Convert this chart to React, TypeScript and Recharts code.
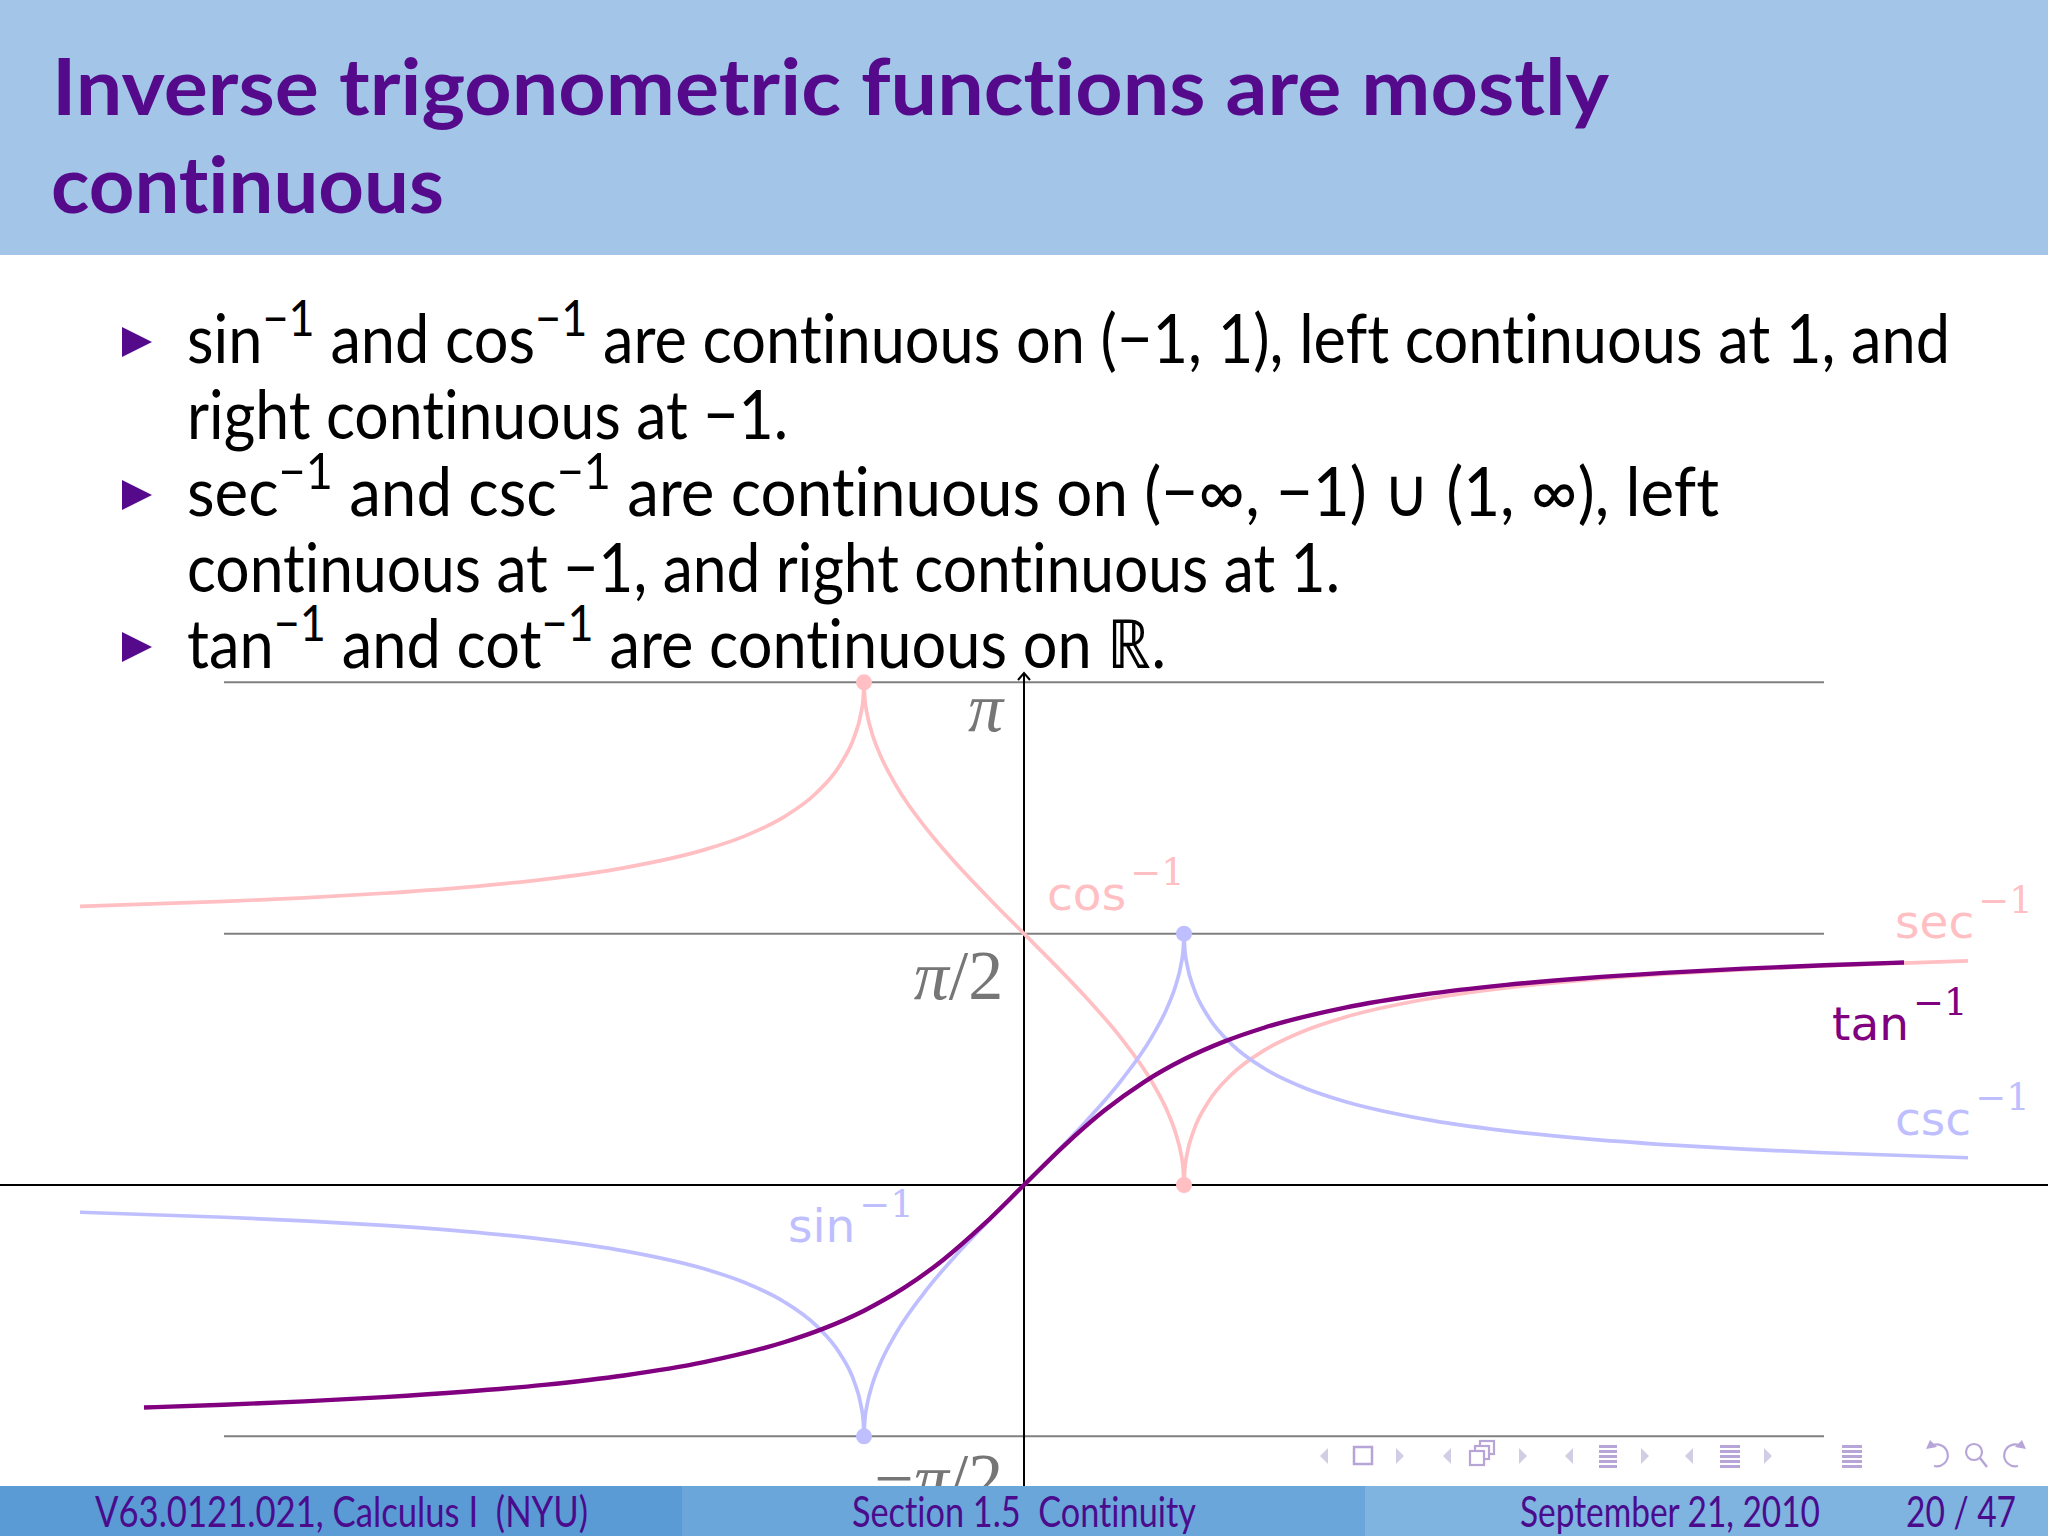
import React from 'react';
import { ComposedChart, Line, Scatter, XAxis, YAxis, ReferenceLine, ReferenceDot } from 'recharts';

const PI = 3.1416;
const HALF_PI = 1.5708;

// sec^-1 / csc^-1, left branch (x <= -1)
const leftBranchX = [-5.9, -5, -4.5, -4, -3.5, -3, -2.5, -2, -1.75, -1.5, -1.3, -1.15, -1.06, -1.02, -1.005, -1];
const secLeftY = [1.7411, 1.7722, 1.7949, 1.8235, 1.8606, 1.9106, 1.9823, 2.0944, 2.1791, 2.3005, 2.4485, 2.6252, 2.8035, 2.9432, 3.0418, 3.1416];
const cscLeftY = [-0.1703, -0.2014, -0.2241, -0.2527, -0.2898, -0.3398, -0.4115, -0.5236, -0.6082, -0.7297, -0.8777, -1.0544, -1.2327, -1.3724, -1.471, -1.5708];

// right branch (x >= 1)
const rightBranchX = [1, 1.005, 1.02, 1.06, 1.15, 1.3, 1.5, 1.75, 2, 2.5, 3, 3.5, 4, 4.5, 5, 5.9];
const secRightY = [0, 0.0998, 0.1984, 0.3381, 0.5164, 0.6931, 0.8411, 0.9625, 1.0472, 1.1593, 1.231, 1.281, 1.3181, 1.3467, 1.3694, 1.4005];
const cscRightY = [1.5708, 1.471, 1.3724, 1.2327, 1.0544, 0.8777, 0.7297, 0.6082, 0.5236, 0.4115, 0.3398, 0.2898, 0.2527, 0.2241, 0.2014, 0.1703];

// sin^-1 / cos^-1 on [-1, 1]
const unitX = [-1, -0.995, -0.98, -0.95, -0.9, -0.8, -0.6, -0.4, -0.2, 0, 0.2, 0.4, 0.6, 0.8, 0.9, 0.95, 0.98, 0.995, 1];
const acosY = [3.1416, 3.0416, 2.9413, 2.824, 2.6906, 2.4981, 2.2143, 1.9823, 1.7722, 1.5708, 1.3694, 1.1593, 0.9273, 0.6435, 0.451, 0.3176, 0.2003, 0.1, 0];
const asinY = [-1.5708, -1.4708, -1.3705, -1.2532, -1.1198, -0.9273, -0.6435, -0.4115, -0.2014, 0, 0.2014, 0.4115, 0.6435, 0.9273, 1.1198, 1.2532, 1.3705, 1.4708, 1.5708];

// tan^-1
const tanX = [-5.5, -5, -4.5, -4, -3.5, -3, -2.5, -2, -1.5, -1.25, -1, -0.75, -0.5, -0.25, 0, 0.25, 0.5, 0.75, 1, 1.25, 1.5, 2, 2.5, 3, 3.5, 4, 4.5, 5, 5.5];
const atanY = [-1.3909, -1.3734, -1.3521, -1.3258, -1.2925, -1.249, -1.1903, -1.1071, -0.9828, -0.8961, -0.7854, -0.6435, -0.4636, -0.245, 0, 0.245, 0.4636, 0.6435, 0.7854, 0.8961, 0.9828, 1.1071, 1.1903, 1.249, 1.2925, 1.3258, 1.3521, 1.3734, 1.3909];

// closed endpoints
const pinkDotX = [-1, 1];
const pinkDotY = [PI, 0];
const blueDotX = [1, -1];
const blueDotY = [HALF_PI, -HALF_PI];

// horizontal guides and their labels
const guideLevels = [PI, HALF_PI, -HALF_PI];
const guideLabels = ['π', 'π/2', '−π/2'];
const guideLabelY = [2.84, 1.16, -1.98];

// curve names
const fnNames = ['cos', 'sec', 'tan', 'csc', 'sin'];
const fnLabelX = [0.144, 5.444, 5.05, 5.444, -1.475];
const fnLabelY = [1.72, 1.545, 0.906, 0.3125, -0.356];

const PINK = '#ffbfc3';
const BLUE = '#bfbfff';
const VIOLET = '#800080';
const fnColors = [PINK, PINK, VIOLET, BLUE, BLUE];

const zip = (xs: number[], ys: number[]) => xs.map((x, i) => ({ x, y: ys[i] }));

const secLeft = zip(leftBranchX, secLeftY);
const cscLeft = zip(leftBranchX, cscLeftY);
const secRight = zip(rightBranchX, secRightY);
const cscRight = zip(rightBranchX, cscRightY);
const acosData = zip(unitX, acosY);
const asinData = zip(unitX, asinY);
const atanData = zip(tanX, atanY);
const pinkDots = zip(pinkDotX, pinkDotY);
const blueDots = zip(blueDotX, blueDotY);

const TITLE = '#550a8c';
const FOOT_TEXT = '#4a0c8c';
const noLig = { fontVariantLigatures: 'none' as const, fontFeatureSettings: '"liga" 0, "clig" 0' };

type Seg = [string, boolean];
const bulletLines: { segs: Seg[]; bullet: boolean; y: number; len: number }[] = [
  { segs: [['sin', false], ['−1', true], [' and cos', false], ['−1', true], [' are continuous on (−1, 1), left continuous at 1, and', false]], bullet: true, y: 363, len: 1763 },
  { segs: [['right continuous at −1.', false]], bullet: false, y: 439, len: 601 },
  { segs: [['sec', false], ['−1', true], [' and csc', false], ['−1', true], [' are continuous on (−∞, −1) ∪ (1, ∞), left', false]], bullet: true, y: 516, len: 1532 },
  { segs: [['continuous at −1, and right continuous at 1.', false]], bullet: false, y: 592, len: 1153 },
  { segs: [['tan', false], ['−1', true], [' and cot', false], ['−1', true], [' are continuous on ℝ.', false]], bullet: true, y: 668, len: 979 },
];

function Slide() {
  return (
    <svg width={2048} height={700} style={{ position: 'absolute', left: 0, top: 0 }}>
      <rect x={0} y={0} width={2048} height={255} fill="#a3c5e7" />
      <text x={52} y={115} fill={TITLE} fontFamily="Lato" fontWeight={700} fontSize={78} textLength={1557} lengthAdjust="spacingAndGlyphs" style={noLig}>
        Inverse trigonometric functions are mostly
      </text>
      <text x={51} y={213} fill={TITLE} fontFamily="Lato" fontWeight={700} fontSize={78} textLength={393} lengthAdjust="spacingAndGlyphs" style={noLig}>
        continuous
      </text>
      {bulletLines.map((ln, i) => (
        <g key={i}>
          {ln.bullet && <polygon points={`122,${ln.y - 36} 152,${ln.y - 21} 122,${ln.y - 6}`} fill={TITLE} />}
          <text x={187} y={ln.y} fill="#000" fontFamily="Lato" fontSize={68} textLength={ln.len} lengthAdjust="spacingAndGlyphs" style={{ whiteSpace: 'pre', ...noLig }}>
            {ln.segs.map((s, j) => {
              const prevSup = j > 0 && ln.segs[j - 1][1];
              const dy = s[1] ? -27 : prevSup ? 27 : 0;
              return (
                <tspan key={j} dy={dy} fontSize={s[1] ? 50 : 68}>
                  {s[0]}
                </tspan>
              );
            })}
          </text>
        </g>
      ))}
    </svg>
  );
}

function NavIcons() {
  const cy = 1456;
  const arrow = '#d2cde3';
  const icon = '#b7a5d8';
  const triL = (cx: number) => <polygon points={`${cx + 4},${cy - 8} ${cx - 4},${cy} ${cx + 4},${cy + 8}`} fill={arrow} />;
  const triR = (cx: number) => <polygon points={`${cx - 4},${cy - 8} ${cx + 4},${cy} ${cx - 4},${cy + 8}`} fill={arrow} />;
  const bars = (x: number, w: number) => (
    <g fill={icon}>
      {[-11, -6, -1, 4, 9].map((d) => (
        <rect key={d} x={x} y={cy + d} width={w} height={3} />
      ))}
    </g>
  );
  return (
    <g>
      {triL(1324)}
      <rect x={1354} y={1447} width={18} height={17} fill="none" stroke={icon} strokeWidth={2.5} />
      {triR(1400)}
      {triL(1447)}
      <rect x={1480} y={1441} width={14} height={13} fill="#fff" stroke={icon} strokeWidth={2.2} />
      <rect x={1475} y={1446} width={14} height={13} fill="#fff" stroke={icon} strokeWidth={2.2} />
      <rect x={1470} y={1451} width={14} height={14} fill="#fff" stroke={icon} strokeWidth={2.2} />
      {triR(1523)}
      {triL(1569)}
      {bars(1599, 18)}
      {triR(1645)}
      {triL(1689)}
      {bars(1720, 20)}
      {triR(1768)}
      {bars(1842, 20)}
      <path d="M1931,1446 A11,11 0 1 1 1934,1466" fill="none" stroke={icon} strokeWidth={2.2} />
      <polygon points="1926,1449 1937,1447 1930,1440" fill={icon} />
      <circle cx={1974} cy={1452} r={8} fill="none" stroke={icon} strokeWidth={2.2} />
      <line x1={1980} y1={1458} x2={1987} y2={1467} stroke={icon} strokeWidth={2.5} />
      <path d="M2021,1446 A11,11 0 1 0 2018,1466" fill="none" stroke={icon} strokeWidth={2.2} />
      <polygon points="2026,1449 2015,1447 2022,1440" fill={icon} />
    </g>
  );
}

function Footer() {
  const base = 1527;
  const common = { fill: FOOT_TEXT, fontFamily: 'Lato', fontSize: 43, lengthAdjust: 'spacingAndGlyphs' as const };
  return (
    <svg width={2048} height={1536} style={{ position: 'absolute', left: 0, top: 0, pointerEvents: 'none' }}>
      <NavIcons />
      <rect x={0} y={1486} width={682} height={50} fill="#5a9bd5" />
      <rect x={682} y={1486} width={683} height={50} fill="#6ba6da" />
      <rect x={1365} y={1486} width={683} height={50} fill="#7fb3e0" />
      <text x={95} y={base} textLength={493} {...common} style={{ whiteSpace: 'pre', ...noLig }}>V63.0121.021, Calculus I  (NYU)</text>
      <text x={852} y={base} textLength={344} {...common} style={{ whiteSpace: 'pre', ...noLig }}>Section 1.5  Continuity</text>
      <text x={1520} y={base} textLength={300} {...common}>September 21, 2010</text>
      <text x={1906} y={base} textLength={110} {...common} style={{ whiteSpace: 'pre' }}>20 / 47</text>
    </svg>
  );
}

const GuideLabel = (props: any) => {
  const { cx, cy, label } = props;
  const minus = label.startsWith('−');
  const body = minus ? label.slice(1) : label;
  const parts = body.split('/');
  return (
    <text x={cx} y={cy} textAnchor="end" fill="#767676" fontFamily="Liberation Serif" fontSize={70}>
      {minus && <tspan>−</tspan>}
      <tspan fontStyle="italic">{parts[0]}</tspan>
      {parts.length > 1 && <tspan>/{parts[1]}</tspan>}
    </text>
  );
};

const FnLabel = (props: any) => {
  const { cx, cy, name, color } = props;
  return (
    <text x={cx} y={cy} fill={color}>
      <tspan fontFamily="DejaVu Sans" fontSize={47}>{name}</tspan>
      <tspan fontFamily="DejaVu Serif" fontSize={37} dx={4} dy={-25}>−1</tspan>
    </text>
  );
};

const AxisArrow = (props: any) => {
  const { cx, cy } = props;
  return <path d={`M${cx - 6},${cy + 7} L${cx},${cy} L${cx + 6},${cy + 7}`} fill="none" stroke="#000" strokeWidth={2} />;
};

const dotShape = (color: string) => (p: any) => <circle cx={p.cx} cy={p.cy} r={8} fill={color} />;

function Plot() {
  return (
    <div style={{ position: 'absolute', left: 0, top: 657 }}>
      <ComposedChart width={2048} height={880} margin={{ top: 0, right: 0, bottom: 0, left: 0 }}>
        <XAxis type="number" dataKey="x" domain={[-6.4, 6.4]} allowDataOverflow hide />
        <YAxis type="number" dataKey="y" domain={[-2.2, 3.3]} allowDataOverflow hide />
        {guideLevels.map((lv) => (
          <ReferenceLine key={lv} segment={[{ x: -5, y: lv }, { x: 5, y: lv }]} stroke="#808080" strokeWidth={2} />
        ))}
        <ReferenceLine y={0} stroke="#000" strokeWidth={2} />
        <ReferenceLine segment={[{ x: 0, y: -2.2 }, { x: 0, y: 3.2 }]} stroke="#000" strokeWidth={2} />
        <ReferenceDot x={0} y={3.2} shape={AxisArrow} />
        {guideLabels.map((lb, i) => (
          <ReferenceDot key={lb} x={-0.13} y={guideLabelY[i]} ifOverflow="visible" shape={(p: any) => <GuideLabel {...p} label={lb} />} />
        ))}
        <Line data={secLeft} dataKey="y" type="monotone" stroke={PINK} strokeWidth={3.7} dot={false} activeDot={false} isAnimationActive={false} />
        <Line data={secRight} dataKey="y" type="monotone" stroke={PINK} strokeWidth={3.7} dot={false} activeDot={false} isAnimationActive={false} />
        <Line data={acosData} dataKey="y" type="monotone" stroke={PINK} strokeWidth={3.7} dot={false} activeDot={false} isAnimationActive={false} />
        <Line data={cscLeft} dataKey="y" type="monotone" stroke={BLUE} strokeWidth={3.7} dot={false} activeDot={false} isAnimationActive={false} />
        <Line data={cscRight} dataKey="y" type="monotone" stroke={BLUE} strokeWidth={3.7} dot={false} activeDot={false} isAnimationActive={false} />
        <Line data={asinData} dataKey="y" type="monotone" stroke={BLUE} strokeWidth={3.7} dot={false} activeDot={false} isAnimationActive={false} />
        <Line data={atanData} dataKey="y" type="monotone" stroke={VIOLET} strokeWidth={4.4} dot={false} activeDot={false} isAnimationActive={false} />
        <Scatter data={pinkDots} dataKey="y" shape={dotShape(PINK)} isAnimationActive={false} />
        <Scatter data={blueDots} dataKey="y" shape={dotShape(BLUE)} isAnimationActive={false} />
        {fnNames.map((nm, i) => (
          <ReferenceDot key={nm} x={fnLabelX[i]} y={fnLabelY[i]} ifOverflow="visible" shape={(p: any) => <FnLabel {...p} name={nm} color={fnColors[i]} />} />
        ))}
      </ComposedChart>
    </div>
  );
}

export default function App() {
  return (
    <div style={{ position: 'absolute', left: 0, top: 0, width: 2048, height: 1536, background: '#fff', overflow: 'hidden' }}>
      <Slide />
      <Plot />
      <Footer />
    </div>
  );
}
